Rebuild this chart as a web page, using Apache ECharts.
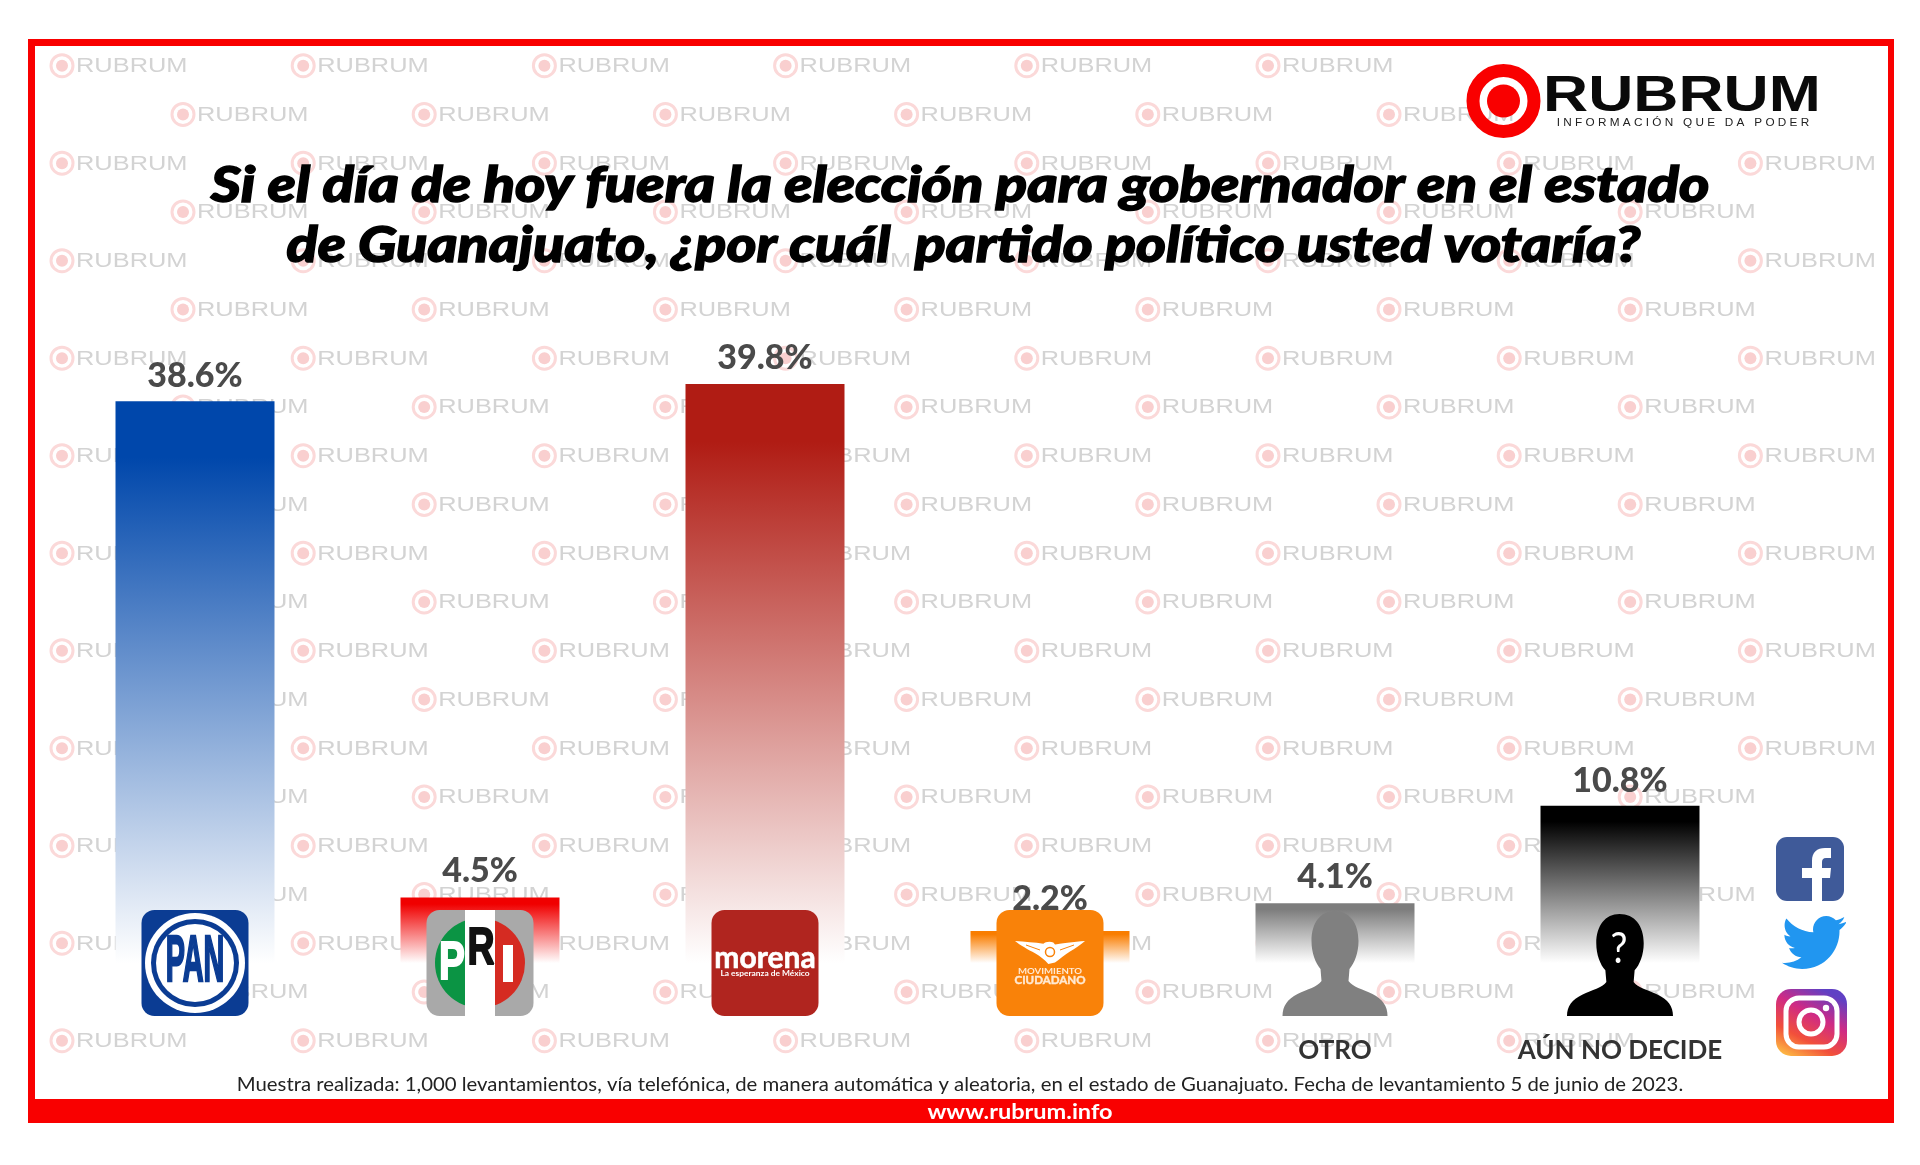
<!DOCTYPE html>
<html>
<head>
<meta charset="utf-8">
<title>Rubrum Guanajuato</title>
<style>
html,body{margin:0;padding:0;background:#fff;}
#main{width:1920px;height:1165px;}
</style>
<script src="https://cdn.jsdelivr.net/npm/echarts@6/dist/echarts.min.js"></script>
</head>
<body>
<div id="main"></div>
<script>
var categories = ['PAN', 'PRI', 'MORENA', 'MOVIMIENTO CIUDADANO', 'OTRO', 'AÚN NO DECIDE'];
var shownNames = ['', '', '', '', 'OTRO', 'AÚN NO DECIDE'];
var values = [38.6, 4.5, 39.8, 2.2, 4.1, 10.8];
var barColors = ['#0047ab', '#f00000', '#b01c14', '#f97d00', '#7d7d7d', '#000000'];
var labelGaps = [8, 9, 9, 15, 9, 8];

var titleLines = ['Si el día de hoy fuera la elección para gobernador en el estado', 'de Guanajuato, ¿por cuál  partido político usted votaría?'];
var noteText = 'Muestra realizada: 1,000 levantamientos, vía telefónica, de manera automática y aleatoria, en el estado de Guanajuato. Fecha de levantamiento 5 de junio de 2023.';
var siteText = 'www.rubrum.info';

var FONT = 'Lato, "Noto Sans", sans-serif';
var PERSON = 'M52 0C67 0 76 12 76 30C76 42 72 52 67 58L66 70C70 76 80 78 90 83C100 88 105 95 105 105L0 105C0 95 5 88 15 83C25 78 35 76 39 70L38 58C33 52 29 42 29 30C29 12 38 0 52 0Z';
var EAGLE = 'M0 0C30 2 60 4 85 8C90 2 105 0 115 4L120 10C130 8 180 2 210 0C195 12 180 22 165 30C150 40 135 50 120 62L100 66C90 55 75 42 60 35C40 25 15 12 0 0Z';
var FB_F = 'M10 53V30H0V20H10V13C10 4 15 0 23 0H29V10H24C21 10 20 12 20 14V20H29L28 30H20V53Z';
var BIRD = 'M64 6C61.6 7 59 7.8 56.5 8.2C59.2 6.5 61.3 4 62.3 1C59.7 2.5 57 3.6 53.9 4.3C51.4 1.6 48 0 44.2 0C37 0 31 6 31 13.3C31 14.3 31.1 15.4 31.4 16.3C20.4 15.8 10.7 10.5 4.4 2.5C3.2 4.5 2.6 6.8 2.6 9.3C2.6 13.9 4.9 18 8.4 20.4C6.2 20.3 4.2 19.7 2.4 18.7V18.9C2.4 25.3 7 30.7 13 31.9C11 32.4 8.9 32.5 7.1 32.1C8.8 37.4 13.7 41.2 19.4 41.3C14.9 44.9 9.1 47 3 47C2 47 1 46.9 0 46.8C5.8 50.7 12.9 53 20.1 53C44.3 53 57.5 33 57.5 15.6C57.5 15 57.5 14.5 57.5 14C60 12.1 62.3 9.8 64 7Z';

function txt(x, y, s, size, color, sx, extra) {
    var style = {
        text: s,
        fontFamily: FONT,
        fontWeight: 'bold',
        fontSize: size,
        fill: color,
        align: 'center',
        verticalAlign: 'middle'
    };
    for (var k in (extra || {})) {
        style[k] = extra[k];
    }
    return {type: 'text', x: x, y: y, scaleX: sx || 1, style: style};
}

function box(x, y, color) {
    return {type: 'rect', shape: {x: x - 53.5, y: y - 53, width: 107, height: 106, r: 13}, style: {fill: color}};
}

function circle(x, y, r, color) {
    return {type: 'circle', shape: {cx: x, cy: y, r: r}, style: {fill: color}};
}

function pathAt(d, x, y, w, h, color) {
    return {type: 'path', shape: {pathData: d, x: x, y: y, width: w, height: h, layout: 'cover'}, style: {fill: color}};
}

// logos sit across the baseline of each bar, index follows categories
function logoChildren(i, x, y) {
    if (i === 0) {
        return [
            box(x, y, '#0b3c93'),
            circle(x, y, 50, '#fff'),
            circle(x, y, 44, '#0b3c93'),
            circle(x, y, 39, '#fff'),
            txt(x, y, 'PAN', 64, '#0b3c93', 0.45, {fontFamily: '"Liberation Sans"', stroke: '#0b3c93', lineWidth: 2.5})
        ];
    }
    if (i === 1) {
        return [
            box(x, y, '#a9a9a9'),
            {type: 'sector', shape: {cx: x, cy: y, r: 45, startAngle: Math.PI / 2, endAngle: Math.PI * 1.5}, style: {fill: '#0b9444'}},
            {type: 'sector', shape: {cx: x, cy: y, r: 45, startAngle: -Math.PI / 2, endAngle: Math.PI / 2}, style: {fill: '#d52b22'}},
            {type: 'rect', shape: {x: x - 15, y: y - 53, width: 30, height: 106}, style: {fill: '#fff'}},
            txt(x - 28, y + 1, 'P', 54, '#fff', 0.72, {fontFamily: '"Liberation Sans"', stroke: '#fff', lineWidth: 2}),
            txt(x + 1, y - 13, 'R', 52, '#111', 0.72, {fontFamily: '"Liberation Sans"', stroke: '#111', lineWidth: 2}),
            {type: 'rect', shape: {x: x + 23, y: y - 18, width: 10, height: 37}, style: {fill: '#fff'}}
        ];
    }
    if (i === 2) {
        return [
            box(x, y, '#b0251f'),
            txt(x, y - 5, 'morena', 30, '#fff', 1.0, {stroke: '#fff', lineWidth: 0.6}),
            txt(x, y + 10, 'La esperanza de México', 8, '#fff', 1.05)
        ];
    }
    if (i === 3) {
        return [
            box(x, y, '#f98209'),
            pathAt(EAGLE, x - 35, y - 22, 70, 23, '#fff'),
            {type: 'circle', shape: {cx: x, cy: y - 11, r: 4.5}, style: {fill: 'none', stroke: '#f98209', lineWidth: 1.5}},
            {type: 'line', shape: {x1: x - 24, y1: y - 18, x2: x - 10, y2: y - 13}, style: {stroke: '#f98209', lineWidth: 1}},
            {type: 'line', shape: {x1: x + 24, y1: y - 18, x2: x + 10, y2: y - 13}, style: {stroke: '#f98209', lineWidth: 1}},
            txt(x, y + 8, 'MOVIMIENTO', 8, '#ffe9d2', 1.2),
            txt(x, y + 17, 'CIUDADANO', 11, '#ffe9d2', 1.05, {stroke: '#ffe9d2', lineWidth: 0.4})
        ];
    }
    if (i === 4) {
        return [pathAt(PERSON, x - 52.5, y - 52, 105, 105, '#808080')];
    }
    return [
        pathAt(PERSON, x - 53, y - 49, 106, 102, '#000'),
        txt(x - 1, y - 14, '?', 42, '#fff', 0.9, {fontWeight: 'normal'})
    ];
}

function socialChildren() {
    var gradient = {
        type: 'linear', x: 0.15, y: 1, x2: 0.65, y2: 0,
        colorStops: [
            {offset: 0, color: '#fdb943'},
            {offset: 0.3, color: '#f2503a'},
            {offset: 0.65, color: '#cf2a85'},
            {offset: 1, color: '#6040c4'}
        ]
    };
    return [
        {type: 'rect', shape: {x: 1776, y: 837, width: 68, height: 64, r: 11}, style: {fill: '#3f5a99'}},
        pathAt(FB_F, 1802, 848, 29, 53, '#fff'),
        pathAt(BIRD, 1782, 916, 64, 53, '#2196f0'),
        {type: 'rect', shape: {x: 1776, y: 989, width: 71, height: 67, r: 15}, style: {fill: gradient}},
        {type: 'rect', shape: {x: 1786, y: 998, width: 51, height: 49, r: 13}, style: {fill: 'none', stroke: '#fff', lineWidth: 5}},
        {type: 'circle', shape: {cx: 1811, cy: 1022, r: 12}, style: {fill: 'none', stroke: '#fff', lineWidth: 5}},
        {type: 'circle', shape: {cx: 1826, cy: 1008, r: 3.2}, style: {fill: '#fff'}}
    ];
}

function watermark(x, y) {
    return {
        type: 'group',
        x: x,
        y: y,
        z: 0,
        children: [
            {type: 'circle', z: 0, shape: {cx: 13, cy: 0, r: 11}, style: {fill: '#fff', stroke: '#fbd9d9', lineWidth: 3}},
            {type: 'circle', z: 0, shape: {cx: 13, cy: 0, r: 6}, style: {fill: '#f9cfcf'}},
            {type: 'text', z: 0, x: 27, y: 1, scaleX: 1.27, style: {
                text: 'RUBRUM', fontFamily: '"Liberation Sans"', fontSize: 20,
                fill: '#d3d3d3', align: 'left', verticalAlign: 'middle'
            }}
        ]
    };
}

function buildGraphic() {
    var g = [];
    // background marks: 21 rows, shifted every other row
    for (var r = 0; r < 21; r++) {
        var odd = r % 2 === 1;
        var n = odd ? 7 : 8;
        if (r < 2) {
            n = 6; // brand covers the end of the first rows
        } else if (r >= 16 && !odd) {
            n = 7; // no mark behind the social icons
        }
        for (var c = 0; c < n; c++) {
            g.push(watermark((odd ? 170 : 49) + c * 241.2, 65.7 + r * 48.75));
        }
    }
    var red = '#f90000';
    g.push({type: 'rect', z: 1, shape: {x: 28, y: 39, width: 1866, height: 7}, style: {fill: red}});
    g.push({type: 'rect', z: 1, shape: {x: 28, y: 39, width: 7, height: 1084}, style: {fill: red}});
    g.push({type: 'rect', z: 1, shape: {x: 1888, y: 39, width: 6, height: 1084}, style: {fill: red}});
    g.push({type: 'rect', z: 1, shape: {x: 28, y: 1099, width: 1866, height: 24}, style: {fill: red}});
    // title lines
    g.push({type: 'text', z: 6, x: 960, y: 186, scaleX: 1.158, style: {
        text: titleLines[0], fontFamily: FONT, fontStyle: 'italic', fontWeight: 900, fontSize: 50, fill: '#000',
        stroke: '#000', lineWidth: 1.4, align: 'center', verticalAlign: 'middle'
    }});
    g.push({type: 'text', z: 6, x: 963.5, y: 246, scaleX: 1.145, style: {
        text: titleLines[1], fontFamily: FONT, fontStyle: 'italic', fontWeight: 900, fontSize: 50, fill: '#000',
        stroke: '#000', lineWidth: 1.4, align: 'center', verticalAlign: 'middle'
    }});
    g.push({type: 'text', z: 2, x: 1020, y: 1112, scaleX: 1.12, style: {
        text: siteText, fontFamily: FONT, fontWeight: 'bold', fontSize: 21, fill: '#fff',
        align: 'center', verticalAlign: 'middle'
    }});
    g.push({type: 'text', z: 2, x: 960, y: 1085, scaleX: 1.07, style: {
        text: noteText, fontFamily: FONT, fontSize: 19, fill: '#222',
        align: 'center', verticalAlign: 'middle'
    }});
    // brand top right
    g.push({type: 'circle', z: 2, shape: {cx: 1503.5, cy: 101, r: 30.5}, style: {fill: 'none', stroke: '#f90000', lineWidth: 13}});
    g.push({type: 'circle', z: 2, shape: {cx: 1503.5, cy: 101, r: 16.5}, style: {fill: '#f90000'}});
    g.push({type: 'text', z: 2, x: 1543, y: 97, scaleX: 1.25, style: {
        text: 'RUBRUM', fontFamily: '"Liberation Sans"', fontWeight: 'bold', fontSize: 50, fill: '#0a0a0a',
        align: 'left', verticalAlign: 'middle'
    }});
    g.push({type: 'text', z: 2, x: 1683, y: 123, scaleX: 1.07, style: {
        text: 'I N F O R M A C I Ó N   Q U E   D A   P O D E R', fontFamily: '"Liberation Sans"', fontSize: 11, fill: '#222',
        align: 'center', verticalAlign: 'middle'
    }});
    return g;
}

function barGradient(color) {
    return {
        type: 'linear', x: 0, y: 0, x2: 0, y2: 1,
        colorStops: [
            {offset: 0, color: color},
            {offset: 0.1, color: color},
            {offset: 1, color: '#ffffff'}
        ]
    };
}

var barData = [];
for (var i = 0; i < values.length; i++) {
    barData.push({
        value: values[i],
        itemStyle: {color: barGradient(barColors[i])},
        label: {distance: labelGaps[i]}
    });
}

var myChart = echarts.init(document.getElementById('main'), null, {renderer: 'canvas'});
myChart.setOption({
    animation: false,
    backgroundColor: '#ffffff',
    grid: {left: 52.5, width: 1710, top: 235.5, height: 727.5},
    xAxis: {
        type: 'category',
        data: categories,
        axisLine: {show: false},
        axisTick: {show: false},
        axisLabel: {
            interval: 0,
            margin: 75,
            fontFamily: FONT,
            fontWeight: 'bold',
            fontSize: 26,
            color: '#333',
            formatter: function (v, idx) {
                return shownNames[idx];
            }
        }
    },
    yAxis: {type: 'value', min: 0, max: 50, show: false},
    graphic: {elements: buildGraphic()},
    series: [
        {
            type: 'bar',
            z: 2,
            barWidth: 159,
            data: barData,
            label: {
                show: true,
                position: 'top',
                fontFamily: FONT,
                fontWeight: 900,
                fontSize: 34,
                color: '#4a4a4a',
                formatter: function (p) {
                    return p.value.toFixed(1) + '%';
                }
            }
        },
        {
            type: 'custom',
            z: 5,
            clip: false,
            silent: true,
            data: [0, 1, 2, 3, 4, 5],
            renderItem: function (params, api) {
                var p = api.coord([api.value(0), 0]);
                return {type: 'group', children: logoChildren(params.dataIndex, p[0], p[1])};
            }
        },
        {
            type: 'custom',
            coordinateSystem: 'none',
            z: 5,
            silent: true,
            data: [0],
            renderItem: function () {
                return {type: 'group', children: socialChildren()};
            }
        }
    ]
});
</script>
</body>
</html>
